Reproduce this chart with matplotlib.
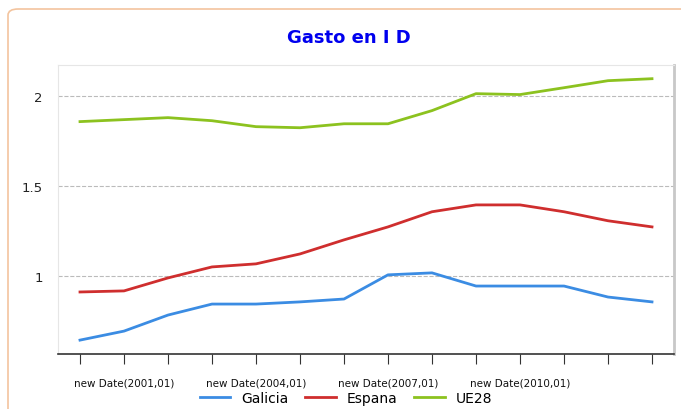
import matplotlib.pyplot as plt
from matplotlib.patches import FancyBboxPatch

# Data
years = list(range(2000, 2014))
galicia = [0.644, 0.694, 0.783, 0.844, 0.844, 0.856, 0.872, 1.006, 1.017,
           0.944, 0.944, 0.944, 0.883, 0.856]
espana = [0.911, 0.917, 0.989, 1.05, 1.067, 1.122, 1.2, 1.272, 1.356,
          1.394, 1.394, 1.356, 1.306, 1.272]
ue28 = [1.856, 1.867, 1.878, 1.861, 1.828, 1.822, 1.844, 1.844, 1.917,
        2.011, 2.006, 2.044, 2.083, 2.094]
tick_labels = ['new Date(%d,01)' % y if (y - 2001) % 3 == 0 and y < 2013 else ''
               for y in years]

fig = plt.figure(figsize=(6.81, 4.10), dpi=100)
fig.patch.set_facecolor('white')

# orange rounded frame around the chart
frame = FancyBboxPatch((8 / 681, -0.1), 1.1, 1.1 - 10 / 410,
                       boxstyle='round,pad=0,rounding_size=0.015',
                       transform=fig.transFigure, facecolor='none',
                       edgecolor='#f3c49e', linewidth=1.2, zorder=-1)
fig.patches.append(frame)

ax = fig.add_axes([58 / 681, 55 / 410, 616 / 681, 289 / 410])
x = list(range(len(years)))
ax.plot(x, galicia, color='#3b8ce3', lw=2, label='Galicia')
ax.plot(x, espana, color='#cf2e2e', lw=2, label='Espana')
ax.plot(x, ue28, color='#8cc21f', lw=2, label='UE28')

ax.set_xlim(-0.5, 13.5)
ax.set_ylim(0.567, 2.17)
ax.set_yticks([1, 1.5, 2])
ax.set_yticklabels(['1', '1.5', '2'])
ax.set_xticks(x)
ax.set_xticklabels(tick_labels)
ax.grid(axis='y', color='#bbbbbb', linestyle='--', linewidth=0.8)
ax.set_axisbelow(True)

for side in ['left', 'top']:
    ax.spines[side].set_color('#e6e6e6')
ax.spines['right'].set_color('#c8c8c8')
ax.spines['right'].set_linewidth(2)
ax.spines['bottom'].set_color('#333333')
ax.spines['bottom'].set_linewidth(1.2)

ax.tick_params(axis='y', length=0, pad=11, labelsize=9.5, labelcolor='#222222')
ax.tick_params(axis='x', direction='out', length=7, color='#333333',
               pad=10, labelsize=7.5, labelcolor='#111111')

fig.text(0.512, 0.907, 'Gasto en I D', color='#0000ee', fontsize=13,
         fontweight='bold', ha='center', va='center')

fig.legend(loc='center', bbox_to_anchor=(0.508, 0.026), ncol=3, frameon=False,
           fontsize=10, handlelength=2.2, columnspacing=1.2)

fig.savefig('out.png', dpi=100)
